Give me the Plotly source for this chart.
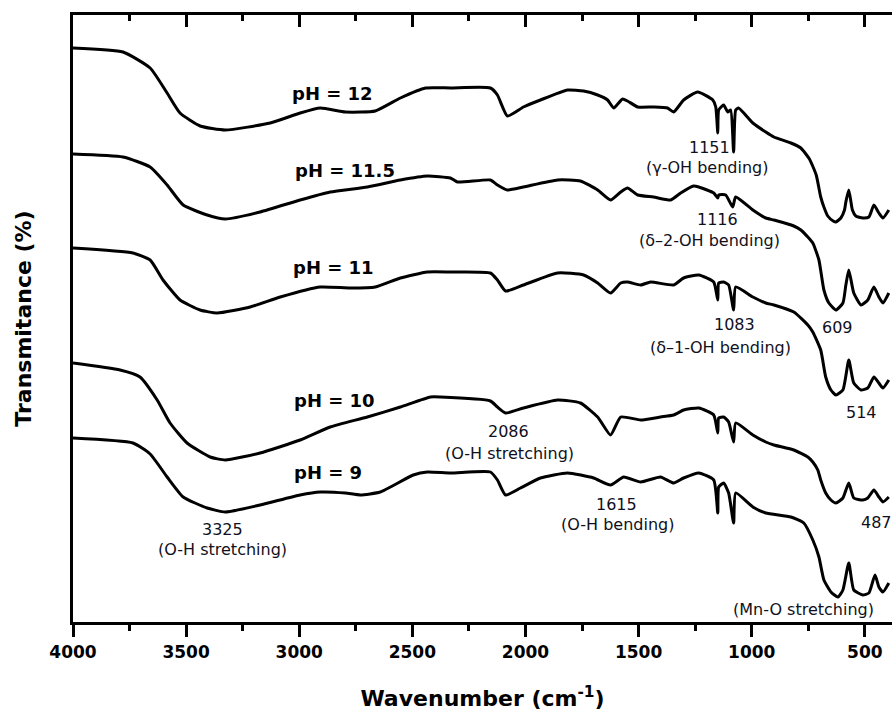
import plotly.graph_objects as go

# ---------------- data (wavenumber in cm^-1, transmittance in arbitrary offset units) -------------
wn_ph12 = [4000, 3779, 3659, 3584, 3527, 3438, 3327, 3128, 2996, 2907, 2796, 2664, 2553, 2442, 2332,
           2155, 2124, 2080, 2009, 1934, 1814, 1743, 1681, 1637, 1610, 1571, 1549, 1504, 1434, 1372,
           1345, 1301, 1239, 1172, 1159, 1150, 1146, 1124, 1106, 1093, 1080, 1071, 1058, 995, 938,
           902, 827, 783, 745, 715, 695, 681, 664, 640, 628, 606, 590, 584, 571, 555, 540, 509, 482,
           460, 438, 420, 394]
t_ph12 = [574, 570, 554, 529, 509, 496, 492, 499, 509, 514, 510, 511, 524, 534, 534,
          534, 527, 506, 515, 522, 532, 531, 527, 522, 514, 523, 521, 515, 515, 514,
          510, 522, 530, 522, 515, 489, 512, 517, 510, 512, 470, 512, 514, 499, 490,
          485, 479, 474, 463, 447, 425, 415, 406, 401, 400, 404, 412, 420, 432, 412, 406, 404, 405,
          417, 409, 404, 412]

wn_ph115 = [4000, 3779, 3659, 3584, 3513, 3407, 3327, 3173, 2996, 2863, 2699, 2553, 2434, 2332, 2301,
            2155, 2124, 2080, 2009, 1858, 1757, 1681, 1624, 1579, 1549, 1504, 1434, 1358, 1314, 1257,
            1234, 1168, 1150, 1146, 1115, 1084, 1071, 995, 938, 902, 814, 783, 752, 730, 703,
            681, 659, 628, 597, 584, 571, 549, 517, 487, 460, 438, 420, 394]
t_ph115 = [468, 465, 455, 437, 417, 407, 403, 410, 422, 430, 435, 442, 446, 444, 440,
           442, 437, 432, 435, 442, 441, 432, 422, 430, 434, 427, 425, 422, 429, 436,
           435, 429, 424, 427, 427, 415, 425, 412, 404, 402, 396, 392, 385, 379, 362,
           332, 319, 312, 319, 337, 352, 329, 317, 322, 335, 325, 319, 329]

wn_ph11 = [4000, 3735, 3659, 3602, 3527, 3438, 3363, 3217, 3084, 2907, 2774, 2664, 2553, 2434, 2332,
           2155, 2124, 2088, 2009, 1858, 1743, 1681, 1624, 1579, 1549, 1491, 1447, 1345, 1301, 1234,
           1168, 1150, 1146, 1124, 1102, 1080, 1071, 995, 938, 902, 814, 752, 730, 695, 673,
           650, 628, 597, 571, 549, 517, 487, 460, 438, 420, 394]
t_ph11 = [374, 369, 362, 342, 322, 312, 309, 315, 325, 335, 334, 335, 344, 350, 350,
          349, 342, 331, 337, 349, 347, 339, 329, 339, 340, 337, 340, 337, 344, 347,
          340, 322, 339, 340, 337, 312, 335, 325, 319, 317, 310, 297, 290, 272, 245,
          232, 227, 232, 262, 239, 232, 234, 245, 239, 234, 242]

wn_ph10 = [4000, 3792, 3704, 3628, 3571, 3496, 3394, 3327, 3173, 2996, 2863, 2699, 2553, 2420, 2376,
           2155, 2124, 2088, 2009, 1858, 1757, 1681, 1624, 1579, 1491, 1403, 1345, 1301, 1234, 1168,
           1150, 1146, 1124, 1102, 1080, 1071, 995, 938, 902, 814, 752, 730, 708, 695, 673,
           650, 628, 597, 571, 549, 509, 487, 460, 438, 420, 394]
t_ph10 = [259, 252, 245, 222, 199, 179, 165, 162, 169, 182, 195, 205, 215, 225, 225,
          221, 215, 209, 214, 222, 219, 205, 187, 205, 202, 205, 207, 212, 214, 207,
          189, 204, 205, 200, 180, 199, 187, 180, 177, 172, 165, 160, 152, 142, 129,
          122, 119, 124, 139, 124, 122, 124, 132, 125, 120, 125]

wn_ph9 = [4000, 3735, 3659, 3584, 3513, 3407, 3327, 3173, 2996, 2907, 2796, 2730, 2642, 2496, 2434,
          2332, 2155, 2124, 2088, 2022, 1934, 1814, 1699, 1624, 1566, 1491, 1403, 1345, 1301, 1234,
          1168, 1150, 1146, 1124, 1102, 1080, 1071, 995, 938, 827, 770, 730, 703, 681, 650,
          619, 597, 571, 549, 509, 482, 455, 438, 420, 394]
t_ph9 = [184, 179, 168, 145, 125, 114, 110, 117, 127, 130, 129, 127, 130, 147, 150,
         149, 150, 142, 127, 134, 144, 149, 144, 137, 145, 140, 145, 139, 144, 149,
         142, 109, 135, 139, 129, 99, 129, 115, 109, 105, 99, 82, 65, 42, 30,
         25, 32, 59, 32, 27, 29, 47, 35, 30, 39]

series_names = ["pH = 12", "pH = 11.5", "pH = 11", "pH = 10", "pH = 9"]
series_wn = [wn_ph12, wn_ph115, wn_ph11, wn_ph10, wn_ph9]
series_t = [t_ph12, t_ph115, t_ph11, t_ph10, t_ph9]

# curve labels (x, y)
curve_label_x = [2854, 2796, 2850, 2845, 2872]
curve_label_y = [529, 452, 355, 222, 150]

# band annotations
band_text = ["3325", "(O-H stretching)", "2086", "(O-H stretching)", "1615", "(O-H bending)",
             "1151", "(γ-OH bending)", "1116", "(δ–2-OH bending)", "1083", "(δ–1-OH bending)",
             "609", "514", "(Mn-O stretching)"]
band_x = [3338, 3338, 2077, 2071, 1597, 1593, 1186, 1199, 1150, 1186, 1075, 1137, 619, 513, 770]
band_y = [93, 73, 191, 169, 118, 98, 475, 455, 403, 382, 298, 275, 295, 210, 13]
label_487_x = 526
label_487_y = 100

x_ticks = [4000, 3500, 3000, 2500, 2000, 1500, 1000, 500]
x_range = [4000, 380]
y_range = [0, 607]

FONT = "DejaVu Sans"
ANN_COLOR = "#101020"

fig = go.Figure()
for name, xs, ys in zip(series_names, series_wn, series_t):
    fig.add_trace(go.Scatter(x=xs, y=ys, mode="lines", name=name,
                             line=dict(color="black", width=3, shape="spline", smoothing=0.5),
                             showlegend=False, hoverinfo="skip"))
# invisible trace to anchor the mirrored top axis
fig.add_trace(go.Scatter(x=[x_ticks[0]], y=[None], xaxis="x2", yaxis="y", mode="lines",
                         showlegend=False, hoverinfo="skip"))

annotations = []
for name, ax, ay in zip(series_names, curve_label_x, curve_label_y):
    annotations.append(dict(x=ax, y=ay, text="<b>" + name + "</b>", showarrow=False,
                            font=dict(family=FONT, size=18, color="black"),
                            xanchor="center", yanchor="middle"))
for txt, ax, ay in zip(band_text, band_x, band_y):
    annotations.append(dict(x=ax, y=ay, text=txt, showarrow=False,
                            font=dict(family=FONT, size=16, color=ANN_COLOR),
                            xanchor="center", yanchor="middle"))
annotations.append(dict(x=label_487_x, y=label_487_y, text="487", showarrow=False,
                        font=dict(family=FONT, size=16, color=ANN_COLOR),
                        xanchor="left", yanchor="middle"))

axis_common = dict(range=x_range, showgrid=False, zeroline=False, showline=True,
                   linecolor="black", linewidth=2.5, tickmode="array", tickvals=x_ticks,
                   ticklen=12, tickwidth=2.5, tickcolor="black",
                   minor=dict(tickmode="linear", tick0=0, dtick=250, ticklen=6,
                              tickwidth=2.5, tickcolor="black", showgrid=False))

fig.update_layout(
    width=892, height=720,
    margin=dict(l=73, r=0, t=15, b=98),
    paper_bgcolor="white", plot_bgcolor="white",
    showlegend=False,
    annotations=annotations,
    xaxis=dict(**axis_common, ticks="outside",
               minor_ticks="outside",
               ticklabelstandoff=1,
               tickfont=dict(family=FONT, size=17, color="black", weight="bold"),
               title=dict(text="<b>Wavenumber (cm<sup>-1</sup>)</b>",
                          font=dict(family=FONT, size=22, color="black"), standoff=30)),
    xaxis2=dict(**axis_common, overlaying="x", side="top", anchor="y", ticks="inside",
                minor_ticks="inside", showticklabels=False),
    yaxis=dict(range=y_range, showgrid=False, zeroline=False, showline=True,
               linecolor="black", linewidth=2.5, ticks="", showticklabels=False,
               title=dict(text="<b>Transmitance (%)</b>",
                          font=dict(family=FONT, size=22, color="black"), standoff=33)),
)

fig.write_html("out.html")
